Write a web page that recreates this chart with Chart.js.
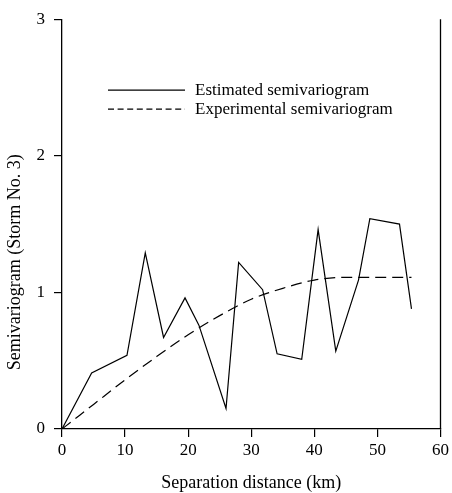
<!DOCTYPE html>
<html><head><meta charset="utf-8">
<script src="https://cdn.jsdelivr.net/npm/chart.js@4"></script>
<style>html,body{margin:0;padding:0;background:#fff}#wrap{width:452px;height:493px}</style>
</head><body><div id="wrap"><canvas id="c" width="452" height="493"></canvas></div>
<script>
const estX = [0, 4.7, 10.3, 13.2, 16.1, 19.5, 21.7, 26.0, 28.0, 31.8, 34.1, 38.0, 40.6, 43.4, 47.0, 48.8, 53.5, 55.4];
const estY = [0, 0.41, 0.54, 1.29, 0.67, 0.96, 0.76, 0.15, 1.22, 1.02, 0.55, 0.51, 1.46, 0.57, 1.09, 1.54, 1.50, 0.88];
const expX = [0, 5, 10, 15, 20, 25, 30, 35, 40, 45, 50, 55.4];
const expY = [0, 0.18, 0.36, 0.53, 0.69, 0.83, 0.95, 1.03, 1.09, 1.11, 1.11, 1.11];
const xTicks = [0, 10, 20, 30, 40, 50, 60];
const yTicks = [0, 1, 2, 3];
const seriesNames = ["Estimated semivariogram", "Experimental semivariogram"];
const xTitle = 'Separation distance (km)';
const yTitle = 'Semivariogram (Storm No. 3)';

const FONT = "'Liberation Serif', 'Times New Roman', serif";
const dash = [11, 6];

const extras = {
  id: 'extras',
  afterDraw(chart) {
    const ctx = chart.ctx, a = chart.chartArea;
    ctx.save();
    ctx.strokeStyle = '#000'; ctx.lineWidth = 1.3;
    ctx.beginPath(); ctx.moveTo(a.right, a.top); ctx.lineTo(a.right, a.bottom); ctx.stroke();
    // legend
    const lx0 = a.left + 46, lx1 = a.left + 123, tx = a.left + 133;
    const ys = [a.top + 71, a.top + 90];
    ctx.font = '17px ' + FONT; ctx.fillStyle = '#000'; ctx.textBaseline = 'middle';
    ctx.lineWidth = 1.2;
    ctx.setLineDash([]);
    ctx.beginPath(); ctx.moveTo(lx0, ys[0]); ctx.lineTo(lx1, ys[0]); ctx.stroke();
    ctx.setLineDash([6, 3.6]);
    ctx.beginPath(); ctx.moveTo(lx0, ys[1]); ctx.lineTo(lx1, ys[1]); ctx.stroke();
    ctx.setLineDash([]);
    ctx.fillText(seriesNames[0], tx, ys[0]);
    ctx.fillText(seriesNames[1], tx, ys[1]);
    // y-axis title (sits below the plot's vertical centre, as in the original)
    ctx.translate(15, a.top + 243);
    ctx.rotate(-Math.PI / 2);
    ctx.font = '18px ' + FONT; ctx.textAlign = 'center'; ctx.textBaseline = 'middle';
    ctx.fillText(yTitle, 0, 0);
    ctx.restore();
  }
};

new Chart(document.getElementById('c'), {
  type: 'scatter',
  data: {
    datasets: [
      { label: seriesNames[0], data: estX.map((x, i) => ({x, y: estY[i]})), showLine: true,
        borderColor: '#000', borderWidth: 1.2, pointRadius: 0, tension: 0 },
      { label: seriesNames[1], data: expX.map((x, i) => ({x, y: expY[i]})), showLine: true,
        borderColor: '#000', borderWidth: 1.2, pointRadius: 0, borderDash: dash,
        cubicInterpolationMode: 'monotone' }
    ]
  },
  options: {
    responsive: false, animation: false, devicePixelRatio: 1,
    layout: { padding: { top: 15, right: 10, left: 0, bottom: 0 } },
    plugins: { legend: { display: false }, tooltip: { enabled: false } },
    scales: {
      x: {
        type: 'linear', min: 0, max: 60,
        afterBuildTicks: s => { s.ticks = xTicks.map(v => ({value: v})); },
        afterFit: s => { s.height = 64; },
        grid: { display: true, drawOnChartArea: false, drawTicks: true, tickLength: 8, color: '#000', lineWidth: 1.2 },
        border: { display: true, color: '#000', width: 1.3 },
        ticks: { color: '#000', font: { family: FONT, size: 17 }, padding: 3, maxRotation: 0 },
        title: { display: true, text: xTitle, color: '#000', font: { family: FONT, size: 18 }, padding: { top: 0, bottom: -1 } }
      },
      y: {
        type: 'linear', min: 0, max: 3,
        afterBuildTicks: s => { s.ticks = yTicks.map(v => ({value: v})); },
        afterFit: s => { s.width = 62; },
        grid: { display: true, drawOnChartArea: false, drawTicks: true, tickLength: 8, color: '#000', lineWidth: 1.2 },
        border: { display: true, color: '#000', width: 1.3 },
        ticks: { color: '#000', font: { family: FONT, size: 17 }, padding: 9 },
        title: { display: false, text: yTitle }
      }
    }
  },
  plugins: [extras]
});
</script></body></html>
